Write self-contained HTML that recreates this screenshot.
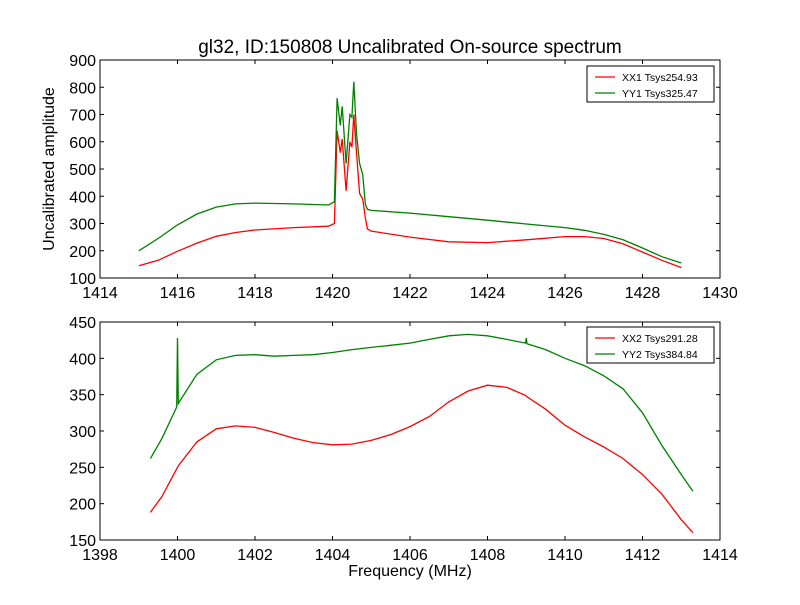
<!DOCTYPE html>
<html><head><meta charset="utf-8"><style>
body{margin:0;background:#fff;}
svg text{font-family:"Liberation Sans","DejaVu Sans",sans-serif;}
</style></head><body>
<svg id="chart" width="800" height="600" xmlns="http://www.w3.org/2000/svg">
<rect width="800" height="600" fill="#fff"/>
</svg>
<script>
const topFreq=[1415,1415.5,1416,1416.5,1417,1417.5,1418,1419,1419.9,1420.05,1420.12,1420.2,1420.25,1420.35,1420.45,1420.5,1420.55,1420.62,1420.7,1420.78,1420.85,1420.9,1421,1422,1423,1424,1425,1426,1426.5,1427,1427.5,1428,1428.5,1429];
const xx1=[145,165,198,228,253,267,276,285,290,300,640,560,610,420,600,580,700,560,410,390,320,280,272,250,233,230,240,252,252,245,225,195,165,138];
const yy1=[200,245,295,335,360,372,375,372,368,380,760,660,730,520,700,690,820,630,520,480,370,352,348,338,325,312,298,285,275,260,240,210,178,155];
const botFreq=[1399.3,1399.6,1399.98,1400,1400.02,1400.5,1401,1401.5,1402,1402.5,1403,1403.5,1404,1404.5,1405,1405.5,1406,1406.5,1407,1407.5,1408,1408.5,1408.98,1409,1409.02,1409.5,1410,1410.5,1411,1411.5,1412,1412.5,1413,1413.3];
const xx2=[188,210,248,250,252,285,303,307,305,298,290,284,281,282,287,295,306,320,340,355,363,360,349,348,347,330,308,292,278,262,240,213,178,160];
const yy2=[262,290,333,428,338,378,398,404,405,403,404,405,408,412,415,418,421,426,431,433,431,426,421,428,420,412,400,390,376,358,325,280,240,217];
const topXTicks=[1414,1416,1418,1420,1422,1424,1426,1428,1430];
const topYTicks=[100,200,300,400,500,600,700,800,900];
const botXTicks=[1398,1400,1402,1404,1406,1408,1410,1412,1414];
const botYTicks=[150,200,250,300,350,400,450];
const NS="http://www.w3.org/2000/svg";
const svg=document.getElementById('chart');
function mk(tag,attrs,parent){const e=document.createElementNS(NS,tag);for(const k in attrs)e.setAttribute(k,attrs[k]);(parent||svg).appendChild(e);return e;}
function panel(name,box,xr,yr,xt,yt,series,legend){
  const sx=v=>box.x+(v-xr[0])/(xr[1]-xr[0])*box.w;
  const sy=v=>box.y+box.h-(v-yr[0])/(yr[1]-yr[0])*box.h;
  const g=mk('g',{});
  
  
  series.forEach(s=>{
    const p=mk('polyline',{points:s.x.map((f,i)=>sx(f).toFixed(1)+','+sy(s.y[i]).toFixed(1)).join(' '),fill:'none',stroke:s.c,'stroke-width':1.3},g);
    
    
  });
  const fr=mk('rect',{x:box.x,y:box.y,width:box.w,height:box.h,fill:'none',stroke:'#000','stroke-width':1},g);
  
  
  xt.forEach(t=>{const X=sx(t);
    mk('line',{x1:X,x2:X,y1:box.y+box.h,y2:box.y+box.h-4,stroke:'#000'},g);
    mk('line',{x1:X,x2:X,y1:box.y,y2:box.y+4,stroke:'#000'},g);
    const tx=mk('text',{x:X,y:box.y+box.h+20,'text-anchor':'middle','font-size':16},g);tx.textContent=t;
    
    });
  yt.forEach(t=>{const Y=sy(t);
    mk('line',{x1:box.x,x2:box.x+4,y1:Y,y2:Y,stroke:'#000'},g);
    mk('line',{x1:box.x+box.w,x2:box.x+box.w-4,y1:Y,y2:Y,stroke:'#000'},g);
    const tx=mk('text',{x:box.x-4,y:Y+6,'text-anchor':'end','font-size':16},g);tx.textContent=t;
    
    });
  const lg=mk('g',{},g);
  
  
  mk('rect',{x:legend.x,y:legend.y,width:legend.w,height:36,fill:'#fff',stroke:'#000','stroke-width':1},lg);
  series.forEach((s,i)=>{const Y=legend.y+11+i*16;
    mk('line',{x1:legend.x+8,x2:legend.x+28,y1:Y,y2:Y,stroke:s.c,'stroke-width':1.3},lg);
    const tx=mk('text',{x:legend.x+35,y:Y+4,'font-size':10.5},lg);tx.textContent=s.label;
    
    });
}
panel('top-panel',{x:100,y:60,w:620,h:218},[1414,1430],[100,900],topXTicks,topYTicks,
 [{x:topFreq,y:xx1,c:'#ff0000',n:'xx1-line',label:'XX1 Tsys254.93'},{x:topFreq,y:yy1,c:'#008000',n:'yy1-line',label:'YY1 Tsys325.47'}],{x:587,y:66,w:127});
panel('bottom-panel',{x:100,y:322,w:620,h:218},[1398,1414],[150,450],botXTicks,botYTicks,
 [{x:botFreq,y:xx2,c:'#ff0000',n:'xx2-line',label:'XX2 Tsys291.28'},{x:botFreq,y:yy2,c:'#008000',n:'yy2-line',label:'YY2 Tsys384.84'}],{x:587,y:327,w:127});
let t=mk('text',{x:410,y:53,'text-anchor':'middle','font-size':19});t.textContent='gl32, ID:150808 Uncalibrated On-source spectrum';


t=mk('text',{x:54,y:169,'text-anchor':'middle','font-size':16,transform:'rotate(-90 54 169)'});t.textContent='Uncalibrated amplitude';


t=mk('text',{x:410,y:576,'text-anchor':'middle','font-size':16});t.textContent='Frequency (MHz)';


</script>
</body></html>
